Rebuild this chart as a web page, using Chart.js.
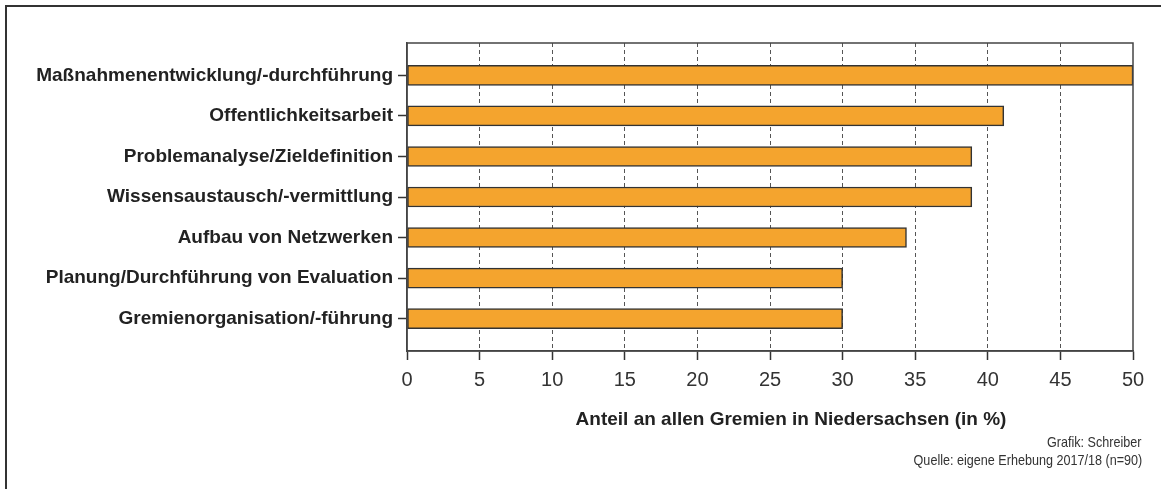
<!DOCTYPE html>
<html>
<head>
<meta charset="utf-8">
<script src="https://cdn.jsdelivr.net/npm/chart.js@4/dist/chart.umd.min.js"></script>
<style>
  html, body { margin: 0; padding: 0; background: #fff; }
  #wrap { position: relative; width: 1161px; height: 489px; overflow: hidden; }
  #frame { position: absolute; left: 5px; top: 5px; width: 1200px; height: 600px;
           border-top: 2px solid #333; border-left: 2px solid #333; pointer-events: none; }
  .credit { position: absolute; right: 19px; font-family: "Liberation Sans", Arial, sans-serif;
            font-size: 15px; color: #333; white-space: nowrap;
            transform: scaleX(0.84); transform-origin: right center; }
  #xtitle { position: absolute; left: 791px; top: 408px; transform: translateX(-50%);
            font-family: "Liberation Sans", Arial, sans-serif; font-weight: bold; font-size: 19px;
            color: #222; white-space: nowrap; }
</style>
</head>
<body>
<div id="wrap">
  <canvas id="chart" width="1161" height="489"></canvas>
  <div id="frame"></div>
  <div id="xtitle"></div>
  <div class="credit" style="top:433px">Grafik: Schreiber</div>
  <div class="credit" style="top:451px">Quelle: eigene Erhebung 2017/18 (n=90)</div>
</div>
<script>
// categories, top to bottom
const categories = [
  'Maßnahmenentwicklung/-durchführung',
  'Offentlichkeitsarbeit',
  'Problemanalyse/Zieldefinition',
  'Wissensaustausch/-vermittlung',
  'Aufbau von Netzwerken',
  'Planung/Durchführung von Evaluation',
  'Gremienorganisation/-führung'
];
// share of all committees in Lower Saxony (%)
const shares = [50, 41.1, 38.9, 38.9, 34.4, 30, 30];
const xTicks = [0, 5, 10, 15, 20, 25, 30, 35, 40, 45, 50];
const xTitle = 'Anteil an allen Gremien in Niedersachsen (in %)';

document.getElementById('xtitle').textContent = xTitle;

// box around the plot area
const plotFrame = {
  id: 'plotFrame',
  afterDraw(chart) {
    const a = chart.chartArea;
    const ctx = chart.ctx;
    ctx.save();
    ctx.strokeStyle = '#444';
    ctx.lineWidth = 1.5;
    ctx.strokeRect(a.left, a.top, a.right - a.left, a.bottom - a.top);
    ctx.restore();
  }
};

function setupChart() {
  new Chart(document.getElementById('chart'), {
    type: 'bar',
    data: {
      datasets: [{
        data: shares.map((v, i) => ({ x: v, y: i })),
        backgroundColor: '#F4A42E',
        borderColor: '#333',
        borderWidth: 1.5,
        borderSkipped: false,
        barThickness: 20
      }]
    },
    options: {
      indexAxis: 'y',
      responsive: false,
      animation: false,
      devicePixelRatio: 1,
      layout: { padding: { top: 43, right: 28, left: 0, bottom: 0 } },
      plugins: { legend: { display: false }, tooltip: { enabled: false } },
      scales: {
        x: {
          type: 'linear',
          min: 0,
          max: 50,
          afterBuildTicks: s => { s.ticks = xTicks.map(v => ({ value: v })); },
          afterFit: s => { s.height = 138; },
          grid: {
            color: c => (c.tick && (c.tick.value === 0 || c.tick.value === 50)) ? 'rgba(0,0,0,0)' : '#555',
            lineWidth: 1,
            tickLength: 9,
            tickColor: '#333',
            tickWidth: 1.5
          },
          border: { display: true, color: '#444', width: 1.5, dash: [4, 3] },
          ticks: {
            padding: 8,
            color: '#333',
            font: { family: '"Liberation Sans", Arial, sans-serif', size: 20 }
          }
        },
        y: {
          type: 'linear',
          reverse: true,
          offset: false,
          min: -0.8,
          max: 6.8,
          afterBuildTicks: s => { s.ticks = categories.map((c, i) => ({ value: i })); },
          afterFit: s => { s.width = 407; },
          grid: {
            offset: false,
            drawOnChartArea: false,
            tickLength: 9,
            tickColor: '#333',
            tickWidth: 1.5
          },
          border: { display: true, color: '#444', width: 1.5 },
          ticks: {
            autoSkip: false,
            padding: 5,
            color: '#222',
            callback: v => categories[v],
            font: { family: '"Liberation Sans", Arial, sans-serif', size: 19, weight: 'bold' }
          }
        }
      }
    },
    plugins: [plotFrame]
  });
}

setupChart();
</script>
</body>
</html>
